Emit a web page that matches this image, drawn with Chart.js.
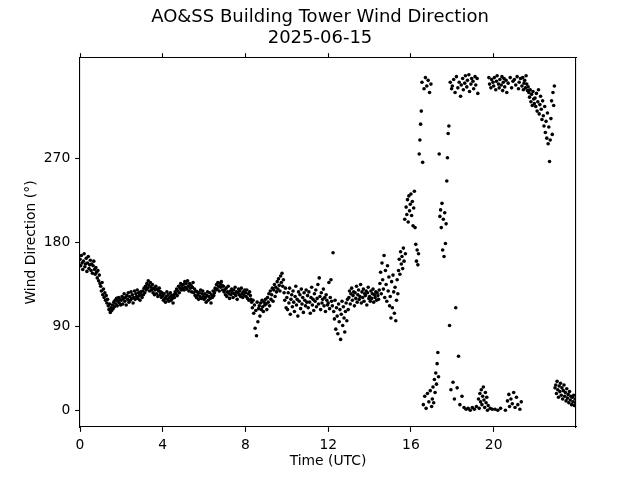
<!DOCTYPE html>
<html><head><meta charset="utf-8">
<script src="https://cdn.jsdelivr.net/npm/chart.js@4.4.1/dist/chart.umd.min.js"></script>
<style>html,body{margin:0;padding:0;background:#fff;}canvas{display:block;}</style>
</head><body>
<canvas id="c" width="640" height="480"></canvas>
<script>
const titleLines = ['AO&SS Building Tower Wind Direction', '2025-06-15'];
const xTickHours = [0, 4, 8, 12, 16, 20];
const yTickDegrees = [0, 90, 180, 270];

// sample times, minutes after 00:00 UTC
const minutes = [
0,2,4,6,8,10,12,14,16,18,20,22,24,26,28,30,32,34,36,38,40,42,44,46,48,50,52,54,56,58,
60,62,64,66,68,70,72,74,76,78,80,82,84,86,88,90,92,94,96,98,100,102,104,106,108,110,112,114,116,118,
120,122,124,126,128,130,132,134,136,138,140,142,144,146,148,150,152,154,156,158,160,162,164,166,168,170,172,174,176,178,
180,182,184,186,188,190,192,194,196,198,200,202,204,206,208,210,212,214,216,218,220,222,224,226,228,230,232,234,236,238,
240,242,244,246,248,250,252,254,256,258,260,262,264,266,268,270,272,274,276,278,280,282,284,286,288,290,292,294,296,298,
300,302,304,306,308,310,312,314,316,318,320,322,324,326,328,330,332,334,336,338,340,342,344,346,348,350,352,354,356,358,
360,362,364,366,368,370,372,374,376,378,380,382,384,386,388,390,392,394,396,398,400,402,404,406,408,410,412,414,416,418,
420,422,424,426,428,430,432,434,436,438,440,442,444,446,448,450,452,454,456,458,460,462,464,466,468,470,472,474,476,478,
480,482,484,486,488,490,492,494,496,498,500,502,504,506,508,510,512,514,516,518,520,522,524,526,528,530,532,534,536,538,
540,542,544,546,548,550,552,554,556,558,560,562,564,566,568,570,572,574,576,578,580,582,584,586,588,590,592,594,596,598,
600,602,604,606,608,610,612,614,616,618,620,622,624,626,628,630,632,634,636,638,640,642,644,646,648,650,652,654,656,658,
660,662,664,666,668,670,672,674,676,678,680,682,684,686,688,690,692,694,696,698,700,702,704,706,708,710,712,714,716,718,
720,722,724,726,728,730,732,734,736,738,740,742,744,746,748,750,752,754,756,758,760,762,764,766,768,770,772,774,776,778,
780,782,784,786,788,790,792,794,796,798,800,802,804,806,808,810,812,814,816,818,820,822,824,826,828,830,832,834,836,838,
840,842,844,846,848,850,852,854,856,858,860,862,864,866,868,870,872,874,876,878,880,882,884,886,888,890,892,894,896,898,
900,902,904,906,908,910,912,914,916,918,920,922,924,926,928,930,932,934,936,938,940,942,944,946,948,950,952,954,956,958,
960,962,964,966,968,970,972,974,976,978,980,982,984,986,988,990,992,994,996,998,1000,1002,1004,1006,1008,1010,1012,1014,1016,1018,
1020,1022,1024,1026,1028,1030,1032,1034,1036,1038,1040,1042,1044,1046,1048,1050,1052,1054,1056,1058,1060,1062,1064,1066,1068,1070,1072,1074,1076,1078,
1080,1082,1084,1086,1088,1090,1092,1094,1096,1098,1100,1102,1104,1106,1108,1110,1112,1114,1116,1118,1120,1122,1124,1126,1128,1130,1132,1134,1136,1138,
1140,1142,1144,1146,1148,1150,1152,1154,1156,1158,1160,1162,1164,1166,1168,1170,1172,1174,1176,1178,1180,1182,1184,1186,1188,1190,1192,1194,1196,1198,
1200,1202,1204,1206,1208,1210,1212,1214,1216,1218,1220,1222,1224,1226,1228,1230,1232,1234,1236,1238,1240,1242,1244,1246,1248,1250,1252,1254,1256,1258,
1260,1262,1264,1266,1268,1270,1272,1274,1276,1278,1280,1282,1284,1286,1288,1290,1292,1294,1296,1298,1300,1302,1304,1306,1308,1310,1312,1314,1316,1318,
1320,1322,1324,1326,1328,1330,1332,1334,1336,1338,1340,1342,1344,1346,1348,1350,1352,1354,1356,1358,1360,1362,1364,1366,1368,1370,1372,1374,1376,1378,
1380,1382,1384,1386,1388,1390,1392,1394,1396,1398,1400,1402,1404,1406,1408,1410,1412,1414,1416,1418,1420,1422,1424,1426,1428,1430,1432,1434,1436,1438
];

// wind direction, degrees (one row per hour)
const directionDeg = [
162,155,166,158,151,160,168,154,157,163,149,158,165,152,156,161,150,157,147,155,160,151,146,153,148,142,150,139,145,136,
133,128,137,124,130,121,126,118,123,115,119,112,108,114,105,110,107,113,109,116,111,118,114,120,112,117,121,115,119,113,
118,122,114,120,125,117,121,113,123,119,126,116,122,118,127,120,124,115,121,128,119,125,122,129,120,126,123,118,127,124,
121,128,124,131,126,133,129,136,131,139,134,128,137,132,129,135,126,131,124,129,133,125,130,122,128,131,124,127,121,126,
123,118,125,120,116,122,127,119,124,117,121,126,118,123,120,115,124,121,127,125,130,123,128,133,126,131,136,129,134,131,
135,129,138,132,136,130,139,133,128,136,131,134,127,132,137,126,130,123,128,121,127,124,119,126,122,129,120,125,128,122,
119,125,121,116,123,127,118,122,126,120,115,124,121,128,123,126,131,129,135,130,137,133,128,136,132,138,134,129,133,127,
129,124,131,122,127,133,125,120,128,124,130,126,121,129,125,132,123,127,119,126,130,124,128,122,131,125,121,127,123,129,
126,122,129,120,125,118,127,123,119,116,110,118,104,113,88,107,80,116,95,109,112,101,115,108,118,111,106,116,113,119,
114,108,121,116,125,112,128,119,124,131,117,129,135,122,132,127,138,130,141,134,128,144,137,147,133,140,126,118,131,110,
121,108,126,115,131,103,119,124,111,128,116,106,122,133,113,119,101,127,117,124,109,130,114,121,105,126,118,112,129,116,
123,110,127,116,104,121,132,113,119,107,125,117,129,111,120,135,114,142,122,108,126,115,119,130,112,121,106,124,118,113,
115,137,109,121,140,117,112,169,106,98,118,87,110,101,82,114,95,108,76,103,117,91,111,99,84,106,115,96,119,108,
121,128,114,125,131,118,123,127,112,126,120,133,116,124,129,119,122,135,115,127,121,130,117,125,123,128,113,126,132,120,
122,117,128,120,125,130,116,124,121,127,118,126,123,119,129,136,148,125,158,140,130,166,121,150,135,117,155,128,143,112,
122,99,138,110,145,127,104,132,96,118,140,125,150,162,146,170,157,165,152,174,160,205,168,218,210,226,202,230,214,221,
232,209,224,198,217,235,196,178,160,172,156,168,275,290,307,321,352,266,6,345,15,357,2,348,18,354,9,341,21,350,
4,12,25,8,33,19,40,28,50,62,36,275,208,215,196,222,172,205,165,212,179,200,246,271,297,305,91,352,22,345,
348,30,355,12,341,110,358,24,346,58,352,6,337,349,15,356,344,3,351,359,1,347,354,2,360,342,0,350,356,3,
353,345,1,358,349,4,356,340,12,2,18,9,22,6,15,25,11,3,19,8,14,0,5,357,350,2,346,355,1,352,
348,357,1,344,353,359,0,350,346,355,2,349,358,343,352,356,347,0,354,341,10,351,17,4,357,12,346,7,353,19,
355,3,349,14,358,6,345,352,1,356,9,348,357,344,351,354,346,359,350,343,347,341,336,344,331,339,327,342,334,329,
335,326,340,321,331,344,318,328,337,323,312,332,316,305,326,298,310,292,319,286,304,267,290,313,332,296,341,327,348,24,
27,18,31,22,14,26,20,29,16,24,12,21,27,15,19,10,23,13,17,8,20,11,15,6,14,9,16,5,12,8
];

const FONT = "'DejaVu Sans', sans-serif";
const X_MAX = 23.98;
const points = minutes.map((m, i) => ({ x: m / 60, y: directionDeg[i] }));
const setTicks = vals => scale => { scale.ticks = vals.map(v => ({ value: v })); };
const tickFont = { family: FONT, size: 13.89 };

new Chart(document.getElementById('c'), {
  type: 'scatter',
  data: { datasets: [{
    data: points, xAxisID: 'x', yAxisID: 'y',
    pointRadius: 1.8, pointHoverRadius: 1.8, pointBorderWidth: 0,
    backgroundColor: '#000', borderColor: '#000'
  }]},
  options: {
    responsive: false, animation: false, devicePixelRatio: 1, events: [],
    layout: { padding: 0 },
    plugins: {
      legend: { display: false }, tooltip: { enabled: false },
      title: { display: true, text: titleLines, color: '#000',
        font: { family: FONT, size: 18, weight: 'normal', lineHeight: 1.167 },
        padding: { top: 7, bottom: 0 } }
    },
    scales: {
      x: { type: 'linear', position: 'bottom', min: 0, max: X_MAX,
        afterBuildTicks: setTicks(xTickHours), afterFit: s => { s.height = 53; },
        grid: { display: true, drawOnChartArea: false, tickLength: 4.86, tickColor: '#000', tickWidth: 1.1 },
        border: { display: true, color: '#000', width: 1.1 },
        ticks: { color: '#000', padding: 4.86, font: tickFont, maxRotation: 0, autoSkip: false },
        title: { display: true, text: 'Time (UTC)', color: '#000', font: tickFont, padding: { top: 0, bottom: 10.7 } } },
      x2: { type: 'linear', position: 'top', min: 0, max: X_MAX,
        afterBuildTicks: setTicks(xTickHours), afterFit: s => { s.height = 9; },
        grid: { display: true, drawOnChartArea: false, tickLength: 4.86, tickColor: '#000', tickWidth: 1.1 },
        border: { display: true, color: '#000', width: 1.1 },
        ticks: { display: false } },
      y: { type: 'linear', position: 'left', min: -18, max: 378,
        afterBuildTicks: setTicks(yTickDegrees), afterFit: s => { s.width = 80; },
        grid: { display: true, drawOnChartArea: false, tickLength: 4.86, tickColor: '#000', tickWidth: 1.1 },
        border: { display: true, color: '#000', width: 1.1 },
        ticks: { color: '#000', padding: 4.86, font: tickFont, autoSkip: false },
        title: { display: true, text: 'Wind Direction (°)', color: '#000', font: tickFont, padding: { top: 22.7, bottom: 0 } } },
      y2: { type: 'linear', position: 'right', min: -18, max: 378,
        afterFit: s => { s.width = 64; },
        grid: { display: false },
        border: { display: true, color: '#000', width: 1.1 },
        ticks: { display: false } }
    }
  }
});
</script>
</body></html>
